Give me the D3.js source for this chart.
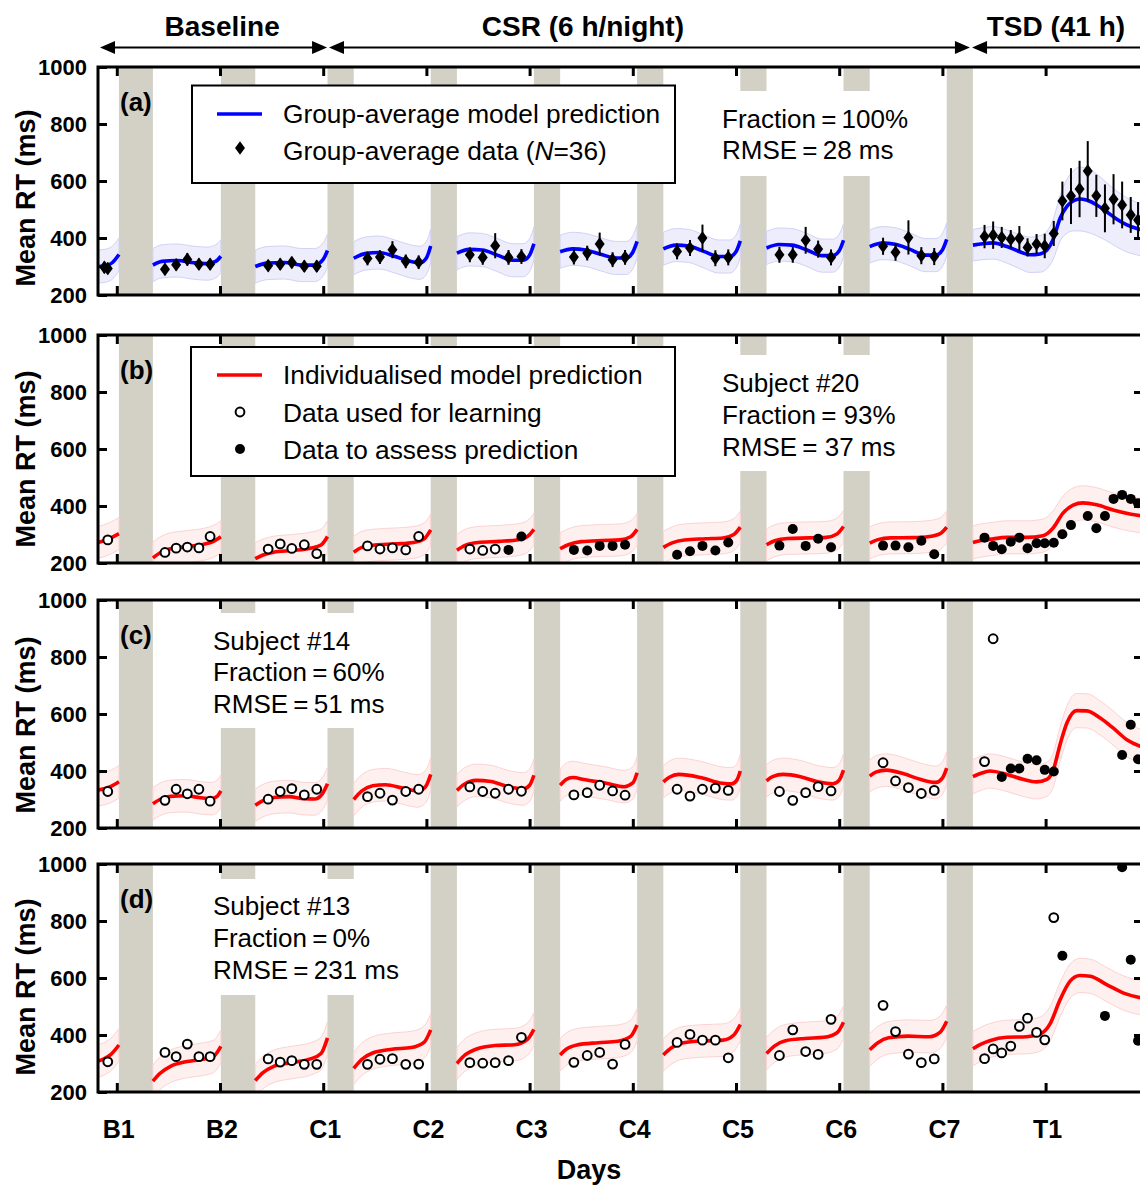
<!DOCTYPE html>
<html><head><meta charset="utf-8">
<script src="https://cdn.jsdelivr.net/npm/d3@7"></script>
<style>
body{margin:0;background:#fff}
text{font-family:"Liberation Sans",Arial,sans-serif;fill:#000}
</style>
</head><body>
<svg id="c" width="1140" height="1185"></svg>
<script>
// ---------------- DATA ----------------
const dayLabels = ["B1","B2","C1","C2","C3","C4","C5","C6","C7","T1"];
const dayTicks  = [0,24,48,72,96,120,144,168,192,216];          // hours
const yTicks    = [200,400,600,800,1000];
const sleepNights = [[0.5,8.4],[24.2,32.2],[49,55.1],[73,79.1],[97,103.1],[121,127.1],[145,151.1],[169,175.1],[193,199.1]];
const phaseLabels = ["Baseline","CSR (6 h/night)","TSD (41 h)"];
const phaseSpans  = [[-3.9,48.9],[49.35,198.4],[198.9,243]];
const phaseCentres = [24.5,108.4,218.4];

const testTimes = [-2.1,
 11.2,13.8,16.4,19.1,21.7,
 35.2,38,40.7,43.6,46.5,
 58.3,61.2,64.1,67.2,70.2,
 82.1,85.1,88,91.1,94.1,
 106.3,109.4,112.3,115.3,118.2,
 130.3,133.3,136.2,139.2,142.2,
 154.1,157.2,160.2,163.1,166.1,
 178.2,181.1,184.1,187.1,190.1,
 201.8,203.8,205.8,207.9,209.9,211.8,213.9,215.8,217.9,219.9,221.9,223.9,225.8,227.8,229.8,231.8,233.8,235.8,237.5];

// (a) group average
const groupExtra = [[-2.9,297,20]];
const groupRT = [293, 290,306,325,308,308, 303,308,314,301,301, 328,333,359,318,315, 341,332,373,332,335,
 333,347,379,324,332, 353,365,400,329,332, 341,341,392,361,332, 371,350,402,338,335,
 405,410,402,396,399,367,379,372,416,530,547,572,635,548,504,536,516,481,463];
const groupErr = [20, 20,20,22,20,20, 20,20,20,20,20, 24,24,30,24,24, 26,26,44,26,26,
 26,26,40,26,26, 28,28,47,28,28, 28,28,47,30,28, 30,30,60,30,30,
 41,48,37,32,43,32,35,43,44,68,98,99,105,74,84,88,82,63,63];

// (b) subject #20 ; first nLearn values are learning data
const subj20RT = [281, 237,252,256,253,293, 249,267,251,264,233, 260,249,253,246,293, 249,244,249,246,293,
 246,244,260,260,264, 229,241,260,244,272, 261,319,260,285,255, 261,261,255,278,231,
 289,260,248,275,289,252,269,269,271,301,333,null,365,322,365,425,439,425,410];
const subj20Learn = 19;
// (c) subject #14
const subj14RT = [328, 297,336,320,336,294, 301,328,338,316,336, 310,322,298,328,336, 344,328,322,336,329,
 316,324,350,330,315, 336,312,336,340,332, 328,297,324,345,330, 429,365,342,321,332,
 433,864,379,409,409,443,438,404,398,null,null,null,null,null,null,null,456,562,441];
const subj14Learn = 43;
// (d) subject #13
const subj13RT = [306, 339,324,368,324,324, 316,305,310,297,297, 297,315,317,297,298, 303,301,303,310,392,
 304,328,339,298,367, 374,402,382,382,320, 328,418,342,332,455, 504,412,333,303,316,
 317,351,337,361,430,459,409,383,812,678,null,null,null,null,467,null,989,664,380];
const subj13Learn = 50;

// model predictions: segments of [hour, RT, band half-width]
const modelA = [
 [[-4.4,300,58],[-2.5,303,58],[-1,314,58],[0.5,342,58]],
 [[8.4,305,58],[10.5,318,58],[14,321,58],[18,313,58],[21,310,58],[23,318,58],[24.2,336,58]],
 [[32.2,300,58],[35,312,58],[39,314,58],[43,305,58],[46,305,58],[48,325,58],[49,356,58]],
 [[55.1,329,58],[58,346,58],[61,349,58],[64.5,336,58],[68,319,58],[70.5,313,58],[72,330,58],[73,372,58]],
 [[79.1,347,58],[82,360,58],[85,358,58],[88.5,340,58],[92,322,58],[94.5,322,58],[96,340,58],[97,380,58]],
 [[103.1,352,58],[106,362,58],[109,358,58],[112.5,343,58],[116,330,58],[118.5,330,58],[120,350,58],[121,388,58]],
 [[127.1,362,58],[130,375,58],[133,372,58],[136.5,353,58],[140,335,58],[142.5,335,58],[144,352,58],[145,390,58]],
 [[151.1,365,58],[154,377,58],[157,375,58],[160.5,358,58],[164,338,58],[166.5,338,58],[168,355,58],[169,392,58]],
 [[175.1,370,58],[178,382,58],[181,378,58],[184.5,360,58],[188,340,58],[190.5,340,58],[192,358,58],[193,395,58]],
 [[199.1,375,55],[201.4,380,56],[203.8,383,57],[207,370,58],[210,352,60],[212.4,341,62],[214.7,344,64],[216.3,358,66],[217.7,393,70],[219.4,470,80],[221,512,95],[222.4,530,105],[224,537,112],[225.5,533,112],[227.9,516,108],[230.2,492,102],[232.5,467,98],[234.9,446,95],[238,430,92],[239.5,425,92]]
];
const modelB = [
 [[-4.4,272,56],[-3,278,56],[-1.5,287,56],[0.5,303,56]],
 [[8.4,218,56],[10,235,56],[12,248,56],[16,257,56],[20,265,56],[22.5,276,56],[24.2,292,56]],
 [[32.2,215,56],[34,228,56],[36.5,238,56],[41,244,56],[45,252,56],[47.5,263,56],[49,293,56]],
 [[55.1,238,56],[57,255,56],[60,263,56],[65,267,56],[69,272,56],[71.5,285,56],[73,316,56]],
 [[79.1,245,56],[81,262,56],[84,272,56],[89,276,56],[93,281,56],[95.5,293,56],[97,318,56]],
 [[103.1,250,56],[105,264,56],[108,275,56],[113,279,56],[117,281,56],[119.5,292,56],[121,318,56]],
 [[127.1,255,56],[129,270,56],[132,281,56],[137,285,56],[141,288,56],[143.5,300,56],[145,326,56]],
 [[151.1,264,56],[153,278,56],[156,286,56],[161,288,56],[165,290,56],[167.5,302,56],[169,328,56]],
 [[175.1,270,56],[177,282,56],[180,288,56],[185,289,56],[189,293,56],[191.5,303,56],[193,326,56]],
 [[199.1,272,58],[201,279,58],[203,283,58],[207,290,58],[211.6,290,58],[215.4,296,58],[217.7,322,60],[220,374,60],[222.4,403,60],[224.7,411,60],[227.9,404,60],[231.7,386,60],[235.6,372,60],[239.5,363,60]]
];
const modelC = [
 [[-4.4,333,57],[-3,338,57],[-1.5,345,57],[0.5,362,57]],
 [[8.4,285,57],[10,300,57],[12.5,311,57],[16,313,57],[19.5,306,57],[22,303,57],[23.4,312,57],[24.2,330,57]],
 [[32.2,280,57],[34,296,57],[36.5,307,57],[40,310,57],[43.5,303,57],[46,302,57],[47.8,320,57],[49,355,57]],
 [[55.1,300,57],[57,330,57],[59.5,348,57],[62.5,352,57],[66.5,340,57],[70,330,57],[71.8,345,57],[73,388,57]],
 [[79.1,332,57],[81,355,57],[83.5,367,57],[87,363,57],[91,345,57],[94.5,337,57],[96,350,57],[97,385,57]],
 [[103.1,350,57],[104.5,370,57],[106,377,57],[109,369,57],[113.8,357,57],[118,345,57],[120,358,57],[121,394,57]],
 [[127.1,362,57],[128.5,378,57],[130.7,388,57],[135.8,377,57],[140.8,357,57],[143,355,57],[144.2,368,57],[145,400,57]],
 [[151.1,365,57],[152.5,380,57],[155,388,57],[159,380,57],[163,362,57],[166.5,355,57],[168,368,57],[169,403,57]],
 [[175.1,382,57],[176.5,396,57],[179,403,57],[183,390,57],[187,370,57],[190.5,360,57],[192,375,57],[193,410,57]],
 [[199.1,380,60],[201,392,60],[203,400,60],[207,388,60],[210.7,371,60],[213.9,362,60],[216.3,371,60],[217.7,400,60],[219.4,495,60],[221,570,60],[223.2,612,60],[225.6,611,60],[228.7,586,60],[231.7,551,60],[234.9,510,60],[238,487,60],[239.5,480,60]]
];
const modelD = [
 [[-4.4,308,57],[-3,316,57],[-1.5,330,57],[0.5,365,57]],
 [[8.4,238,57],[10,265,57],[12.5,290,57],[16,306,57],[20,315,57],[22.5,325,57],[24.2,360,57]],
 [[32.2,240,57],[34,268,57],[36.5,290,57],[40.5,303,57],[45,316,57],[47.5,335,57],[49,390,57]],
 [[55.1,283,57],[57,315,57],[59.5,337,57],[64,350,57],[68.5,356,57],[71.5,375,57],[73,418,57]],
 [[79.1,300,57],[81,330,57],[83.5,350,57],[88,363,57],[92.5,366,57],[95.5,385,57],[97,420,57]],
 [[103.1,330,57],[104.5,350,57],[107,365,57],[112,373,57],[116.5,378,57],[119.5,395,57],[121,435,57]],
 [[127.1,330,57],[129,355,57],[131.5,372,57],[136,379,57],[141,382,57],[143.5,400,57],[145,437,57]],
 [[151.1,335,57],[153,362,57],[155.5,380,57],[160,388,57],[164.5,392,57],[167.5,408,57],[169,445,57]],
 [[175.1,348,57],[177,373,57],[179.5,390,57],[184,396,57],[189,394,57],[191.5,410,57],[193,448,57]],
 [[199.1,352,60],[201,368,60],[203,380,60],[207,392,60],[211.6,394,60],[214.7,403,60],[217,438,60],[219.4,525,60],[221.7,589,60],[224,609,60],[226.4,606,60],[230.2,577,60],[234,548,60],[238,531,60],[239.5,527,60]]
];

// ---------------- LAYOUT ----------------
const svg = d3.select("#c");
const L = 98, R = 1143, PH = 228;
const x = d3.scaleLinear().domain([0,216]).range([116.8,1045.6]);
const FONT = '"Liberation Sans",Arial,sans-serif';

const panels = [
 {top:67,  tag:"(a)", model:modelA, line:"#0000ff", band:"#ededfc", bandEdge:"#d2d2f4", rt:groupRT, err:groupErr, titleOff:17,
  masks:[[700,91,935,176]], legend:{box:[192,85.5,675,183], rows:[114,151], kind:"a"},
  notes:{x:722, ys:[119,150], lines:["Fraction\u2009=\u2009100%","RMSE\u2009=\u200928 ms"]}},
 {top:335, tag:"(b)", model:modelB, line:"#ff0000", band:"#fff0f0", bandEdge:"#fbd3d3", rt:subj20RT, learn:subj20Learn, titleOff:10,
  masks:[[700,355,935,471]], legend:{box:[191,347,675,476], rows:[375,413,450], kind:"b"},
  notes:{x:722, ys:[383,415,447], lines:["Subject #20","Fraction\u2009= 93%","RMSE\u2009= 37 ms"]}},
 {top:600, tag:"(c)", model:modelC, line:"#ff0000", band:"#fff0f0", bandEdge:"#fbd3d3", rt:subj14RT, learn:subj14Learn, titleOff:11,
  masks:[[195,613,420,728]],
  notes:{x:213, ys:[641,672,704], lines:["Subject #14","Fraction\u2009=\u200960%","RMSE\u2009=\u200951 ms"]}},
 {top:864, tag:"(d)", model:modelD, line:"#ff0000", band:"#fff0f0", bandEdge:"#fbd3d3", rt:subj13RT, learn:subj13Learn, titleOff:9,
  masks:[[195,879,420,995]],
  notes:{x:213, ys:[906,938,970], lines:["Subject #13","Fraction\u2009=\u20090%","RMSE\u2009=\u2009231 ms"]}}
];

const defs = svg.append("defs");
const diamond = "M0,-6.8L5,0L0,6.8L-5,0Z";
const rOpen = 4.4, rFill = 5;

// header
phaseLabels.forEach((lab,i)=>{
  svg.append("text").attr("x",x(phaseCentres[i])).attr("y",26).attr("dy","0.35em")
    .attr("text-anchor","middle").attr("font-size",28).attr("font-weight","bold").text(lab);
  const [a,b] = phaseSpans[i].map(x);
  const yA = 47.5;
  svg.append("line").attr("x1",a+10).attr("x2",b-10).attr("y1",yA).attr("y2",yA)
    .attr("stroke","#000").attr("stroke-width",2);
  svg.append("path").attr("d",`M${a},${yA}L${a+15},${yA-6.5}L${a+15},${yA+6.5}Z`).attr("fill","#000");
  svg.append("path").attr("d",`M${b},${yA}L${b-15},${yA-6.5}L${b-15},${yA+6.5}Z`).attr("fill","#000");
});

panels.forEach((p,pi)=>{
  const top = p.top, bot = top+PH;
  const y = d3.scaleLinear().domain([200,1000]).range([bot, top]);
  const g = svg.append("g");
  const cid = "clip"+pi;
  defs.append("clipPath").attr("id",cid).append("rect")
    .attr("x",L).attr("y",top).attr("width",R-L).attr("height",PH);
  const gc = g.append("g").attr("clip-path",`url(#${cid})`);

  // sleep bars
  gc.selectAll("rect.sleep").data(sleepNights).join("rect").attr("class","sleep")
    .attr("x",d=>x(d[0])).attr("width",d=>x(d[1])-x(d[0]))
    .attr("y",top).attr("height",PH).attr("fill","#d3d1c6");
  // white masks behind text
  p.masks.forEach(m=>gc.append("rect").attr("x",m[0]).attr("y",m[1]).attr("width",m[2]-m[0]).attr("height",m[3]-m[1]).attr("fill","#fff"));

  // model band + line
  const area = d3.area().x(d=>x(d[0])).y0(d=>y(d[1]-d[2])).y1(d=>y(d[1]+d[2])).curve(d3.curveMonotoneX);
  const line = d3.line().x(d=>x(d[0])).y(d=>y(d[1])).curve(d3.curveMonotoneX);
  p.model.forEach(seg=>{
    gc.append("path").attr("d",area(seg)).attr("fill",p.band).attr("stroke",p.bandEdge).attr("stroke-width",1);
  });
  p.model.forEach(seg=>{
    gc.append("path").attr("d",line(seg)).attr("fill","none").attr("stroke",p.line).attr("stroke-width",3.6);
  });

  // data
  if (p.err){
    const pts = groupExtra.concat(testTimes.map((t,i)=>[t,p.rt[i],p.err[i]]));
    gc.selectAll("line.eb").data(pts).join("line").attr("class","eb")
      .attr("x1",d=>x(d[0])).attr("x2",d=>x(d[0])).attr("y1",d=>y(d[1]-d[2])).attr("y2",d=>y(d[1]+d[2]))
      .attr("stroke","#000").attr("stroke-width",2);
    gc.selectAll("path.dm").data(pts).join("path").attr("class","dm")
      .attr("d",diamond).attr("transform",d=>`translate(${x(d[0])},${y(d[1])})`).attr("fill","#000");
  } else {
    const pts = testTimes.map((t,i)=>({t, v:p.rt[i], learn:i<p.learn})).filter(d=>d.v!==null);
    gc.selectAll("circle.pt").data(pts).join("circle").attr("class","pt")
      .attr("cx",d=>x(d.t)).attr("cy",d=>y(d.v))
      .attr("r",d=>d.learn?rOpen:rFill)
      .attr("fill",d=>d.learn?"#fff":"#000")
      .attr("stroke",d=>d.learn?"#000":"none").attr("stroke-width",2);
  }

  // legend
  if (p.legend){
    const b = p.legend.box;
    g.append("rect").attr("x",b[0]).attr("y",b[1]).attr("width",b[2]-b[0]).attr("height",b[3]-b[1])
      .attr("fill","#fff").attr("stroke","#000").attr("stroke-width",2);
    const r = p.legend.rows;
    g.append("line").attr("x1",217).attr("x2",262).attr("y1",r[0]).attr("y2",r[0]).attr("stroke",p.line).attr("stroke-width",3.6);
    const txt = (yy, s)=>g.append("text").attr("x",283).attr("y",yy).attr("dy","0.35em").attr("font-size",26.3).text(s);
    if (p.legend.kind==="a"){
      txt(r[0],"Group-average model prediction");
      g.append("path").attr("d",diamond).attr("transform",`translate(240,${r[1]-3})`).attr("fill","#000");
      const t2 = txt(r[1],"");
      t2.append("tspan").text("Group-average data (");
      t2.append("tspan").attr("font-style","italic").text("N");
      t2.append("tspan").text("=36)");
    } else {
      txt(r[0],"Individualised model prediction");
      g.append("circle").attr("cx",240).attr("cy",r[1]-1).attr("r",rOpen).attr("fill","#fff").attr("stroke","#000").attr("stroke-width",2);
      txt(r[1],"Data used for learning");
      g.append("circle").attr("cx",240).attr("cy",r[2]-1).attr("r",rFill).attr("fill","#000");
      txt(r[2],"Data to assess prediction");
    }
  }
  // annotation
  p.notes.lines.forEach((s,i)=>g.append("text").attr("x",p.notes.x).attr("y",p.notes.ys[i]).attr("dy","0.35em")
     .attr("font-size",26).text(s));
  g.append("text").attr("x",120).attr("y",top+35).attr("dy","0.35em").attr("font-size",26)
     .attr("font-weight","bold").text(p.tag);

  // axes
  const styleAxis = sel => { sel.select(".domain").remove(); sel.selectAll("line").attr("stroke","#000").attr("stroke-width",3); };
  g.append("g").attr("transform",`translate(0,${top})`)
    .call(d3.axisTop(x).tickValues(dayTicks).tickSizeInner(-9).tickSizeOuter(0).tickFormat(""))
    .call(styleAxis);
  g.append("g").attr("transform",`translate(0,${bot})`)
    .call(d3.axisBottom(x).tickValues(dayTicks).tickSizeInner(-9).tickSizeOuter(0).tickFormat(""))
    .call(styleAxis);
  const ya = g.append("g").attr("transform",`translate(${L},0)`)
    .call(d3.axisLeft(y).tickValues(yTicks).tickSizeInner(-9).tickSizeOuter(0).tickPadding(11).tickFormat(d3.format("d")))
    .call(styleAxis);
  ya.selectAll("text").attr("font-size",22).attr("font-weight","bold").attr("font-family",FONT).attr("fill","#000");
  g.append("g").attr("transform",`translate(${R},0)`)
    .call(d3.axisRight(y).tickValues([400,600,800]).tickSizeInner(-9).tickSizeOuter(0).tickFormat(""))
    .call(styleAxis);
  g.append("rect").attr("x",L).attr("y",top).attr("width",R-L).attr("height",PH)
    .attr("fill","none").attr("stroke","#000").attr("stroke-width",3);

  g.append("text").attr("transform",`translate(26,${top+PH/2+p.titleOff}) rotate(-90)`).attr("dy","0.35em")
    .attr("text-anchor","middle").attr("font-size",27).attr("font-weight","bold").text("Mean RT (ms)");
});

// x labels
svg.selectAll("text.day").data(dayLabels).join("text").attr("class","day")
  .attr("x",(d,i)=>x(dayTicks[i])+2).attr("y",1129).attr("dy","0.35em").attr("text-anchor","middle")
  .attr("font-size",25).attr("font-weight","bold").text(d=>d);
svg.append("text").attr("x",589).attr("y",1170).attr("dy","0.35em").attr("text-anchor","middle")
  .attr("font-size",27).attr("font-weight","bold").text("Days");
</script>
</body></html>
